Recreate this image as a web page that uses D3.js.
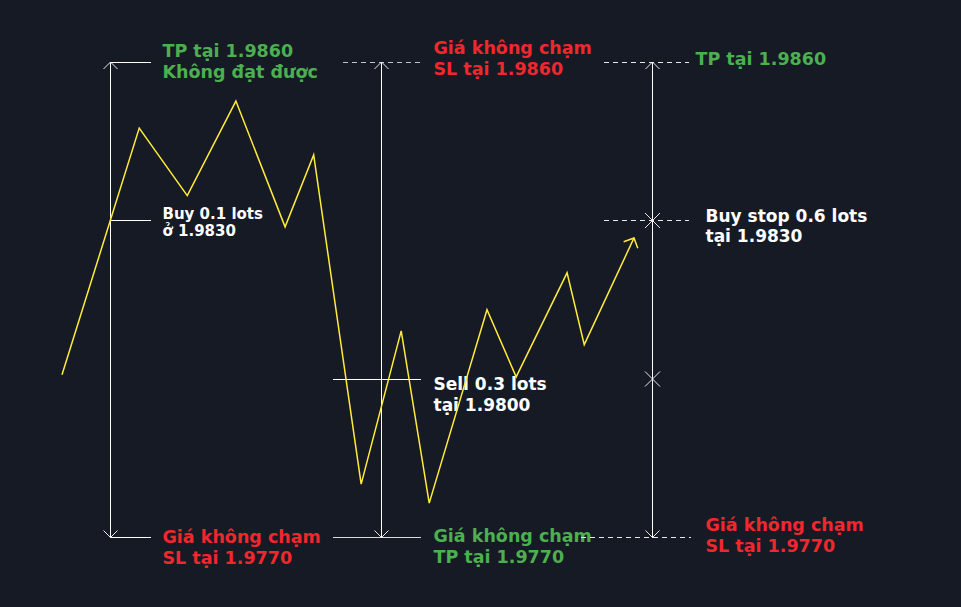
<!DOCTYPE html>
<html>
<head>
<meta charset="utf-8">
<script src="https://cdn.jsdelivr.net/npm/d3@7"></script>
<style>
  body { margin: 0; background: #161a25; }
  svg { display: block; }
  text { font-family: "DejaVu Sans", Verdana, sans-serif; font-weight: bold; }
</style>
</head>
<body>
<div id="chart"></div>
<script>
// price path: bar position and price
var bars   = [0, 13.5, 21.9, 30.4, 39, 44, 52.3, 59.3, 64.2, 74.3, 79.4, 88.3, 91.3, 100];
var prices = [1.98008, 1.98475, 1.98347, 1.98526, 1.98288, 1.98424, 1.97801,
              1.98091, 1.97765, 1.98131, 1.98004, 1.98201, 1.98065, 1.98267];

// the three orders
var orderBar   = [8.4, 55.8, 103.1];
var entryPrice = [1.9830, 1.9800, 1.9830];
var tpPrice    = [1.9860, 1.9770, 1.9860];
var slPrice    = [1.9770, 1.9860, 1.9770];
var crossPrice = [1.9830, 1.9800];   // x marks on the pending order

var entryText = [["Buy 0.1 lots", "ở 1.9830"], ["Sell 0.3 lots", "tại 1.9800"], ["Buy stop 0.6 lots", "tại 1.9830"]];
var tpText    = [["TP tại 1.9860", "Không đạt được"], ["Giá không chạm", "TP tại 1.9770"], ["TP tại 1.9860"]];
var slText    = [["Giá không chạm", "SL tại 1.9770"], ["Giá không chạm", "SL tại 1.9860"], ["Giá không chạm", "SL tại 1.9770"]];

var W = 961, H = 607;
var green = "#4caf50", red = "#f0282d", white = "#ffffff", yellow = "#ffeb3b";

var x = d3.scaleLinear().domain([0, 100]).range([62, 634]);
var y = d3.scaleLinear().domain([1.9770, 1.9860]).range([537.5, 62]);

var svg = d3.select("#chart").append("svg").attr("width", W).attr("height", H);
svg.append("rect").attr("width", W).attr("height", H).attr("fill", "#161a25");

// how each order group is drawn
var look = [
  { from: 0,   to: 40, tpFrom: 0,   slFrom: 0,   dash: [null, null, null],    tx: [52, 52, 52], entrySize: 15, gapE: 17 },
  { from: -49, to: 39, tpFrom: -49, slFrom: -39, dash: [null, null, "5,4"],   tx: [52, 52, 52], entrySize: 17, gapE: 21 },
  { from: -49, to: 36, tpFrom: -49, slFrom: -72, dash: ["5,4", "5,4", "5,4"], tx: [53, 43, 53], entrySize: 17, gapE: 20 }
];
var dyEntry = [-1.5, 11, 1.5], dyTp = [-5, 4.2, 3], dySl = [5.5, -8, -6.8];

function hline(g, px, price, from, to, dash, col) {
  g.append("line")
    .attr("x1", px + from).attr("x2", px + to)
    .attr("y1", y(price)).attr("y2", y(price))
    .attr("stroke", col).attr("stroke-width", 1)
    .attr("shape-rendering", "crispEdges")
    .attr("stroke-dasharray", dash);
}

function label(g, px, price, dy, lines, color, size, gap) {
  var t = g.append("text").attr("fill", color).attr("font-size", size);
  lines.forEach(function(s, k) {
    t.append("tspan").attr("x", px).attr("y", y(price) + dy + k * gap).text(s);
  });
}

function arrowHead(g, px, py, dir) {
  // open V arrow, dir = -1 up, 1 down
  g.append("path")
    .attr("d", "M" + (px - 7) + "," + (py - dir * 7) + "L" + px + "," + py + "L" + (px + 7) + "," + (py - dir * 7))
    .attr("fill", "none").attr("stroke", "#e8e8e8").attr("stroke-width", 1);
}

orderBar.forEach(function(b, i) {
  var g = svg.append("g");
  var px = Math.round(x(b)) + 0.5, L = look[i];
  var top = Math.max(tpPrice[i], slPrice[i]), bot = Math.min(tpPrice[i], slPrice[i]);
  var topY = y(top), botY = y(bot);

  // level lines
  hline(g, px, entryPrice[i], L.from, L.to, L.dash[0], L.dash[0] ? "#e8e8e8" : white);
  hline(g, px, tpPrice[i], L.tpFrom, L.to, L.dash[1], L.dash[1] ? "#e8e8e8" : (i === 1 ? "#d8dadd" : white));
  hline(g, px, slPrice[i], L.slFrom, L.to + (i === 2 ? 2 : 0), L.dash[2], L.dash[2] ? (i === 1 ? "#c0c2c8" : "#e8e8e8") : white);

  // vertical range with arrows
  g.append("line").attr("x1", px).attr("x2", px).attr("y1", topY).attr("y2", botY)
    .attr("stroke", white).attr("stroke-width", 1).attr("shape-rendering", "crispEdges");
  arrowHead(g, px, topY, -1);
  arrowHead(g, px, botY, 1);

  label(g, px + L.tx[0], entryPrice[i], dyEntry[i], entryText[i], white, L.entrySize, L.gapE);
  label(g, px + L.tx[1], tpPrice[i], dyTp[i], tpText[i], green, 17.5, 21);
  label(g, px + L.tx[2], slPrice[i], dySl[i], slText[i], red, 17.5, 21);
});

// x marks on the pending buy stop
var cx = Math.round(x(orderBar[2])) + 0.5;
crossPrice.forEach(function(p) {
  var cy = y(p), s = 7.5;
  svg.append("path")
    .attr("d", "M" + (cx - s) + "," + (cy - s) + "L" + (cx + s) + "," + (cy + s) +
               "M" + (cx - s) + "," + (cy + s) + "L" + (cx + s) + "," + (cy - s))
    .attr("stroke", "#e8e8e8").attr("stroke-width", 1);
});

// price path
var line = d3.line().x(function(d, i) { return x(bars[i]); }).y(function(d) { return y(d); });
svg.append("path").datum(prices).attr("d", line)
  .attr("fill", "none").attr("stroke", yellow).attr("stroke-width", 1.5)
  .attr("stroke-linejoin", "miter");

// arrow at the end of the path
var n = prices.length;
var ex = x(bars[n - 1]), ey = y(prices[n - 1]);
var ang = Math.atan2(y(prices[n - 2]) - ey, x(bars[n - 2]) - ex);
var len = 11, spread = Math.PI / 4;
svg.append("path")
  .attr("d", "M" + (ex + len * Math.cos(ang - spread)) + "," + (ey + len * Math.sin(ang - spread)) +
             "L" + ex + "," + ey +
             "L" + (ex + len * Math.cos(ang + spread)) + "," + (ey + len * Math.sin(ang + spread)))
  .attr("fill", "none").attr("stroke", yellow).attr("stroke-width", 1.5);
</script>
</body>
</html>
